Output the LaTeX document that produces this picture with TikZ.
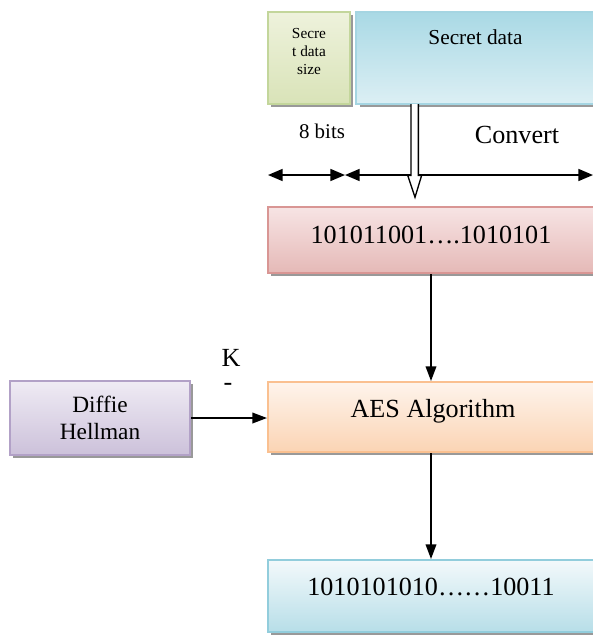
\documentclass[tikz,border=0pt]{standalone}
\usepackage{fontspec}
\setmainfont{Liberation Serif}
\usetikzlibrary{arrows.meta,shadows}
\definecolor{gB}{HTML}{C3D69B}\definecolor{gT}{HTML}{EEF2DC}\definecolor{gL}{HTML}{D9E3B8}
\definecolor{bB}{HTML}{A5D5E2}\definecolor{bT}{HTML}{A9D9E5}\definecolor{bL}{HTML}{DCEFF4}
\definecolor{rB}{HTML}{D99694}\definecolor{rT}{HTML}{F7E4E4}\definecolor{rL}{HTML}{E5B9B7}
\definecolor{oB}{HTML}{FAC090}\definecolor{oT}{HTML}{FEF4EC}\definecolor{oL}{HTML}{FBD4B4}
\definecolor{pB}{HTML}{B2A1C7}\definecolor{pT}{HTML}{EFEBF4}\definecolor{pL}{HTML}{CCC1DA}
\definecolor{cB}{HTML}{92CDDC}\definecolor{cT}{HTML}{F3F9FB}\definecolor{cL}{HTML}{B7DEE8}
\begin{document}
\begin{tikzpicture}[x=0.75pt,y=-0.75pt,
  box/.style={draw, line width=1.5pt, inner sep=0pt,
    drop shadow={shadow xshift=2.5pt, shadow yshift=-2.5pt, fill=black!40, opacity=1}},
  big/.style={font=\fontsize{19.6}{22}\selectfont},
  arr/.style={-{Triangle[length=11pt,width=8pt]}, line width=1.2pt},
  dbl/.style={{Triangle[length=11pt,width=9pt]}-{Triangle[length=11pt,width=9pt]}, line width=1.2pt}]
\useasboundingbox (0,0) rectangle (593,637);
\clip (0,0) rectangle (593,637);
% boxes
\node[box, draw=gB, top color=gT, bottom color=gL, minimum width=61.5pt, minimum height=69pt] (size) at (309,58) {};
\node[box, draw=bB, top color=bT, bottom color=bL, minimum width=179pt, minimum height=69pt] (data) at (475.5,58) {};
\node[box, draw=rB, top color=rT, bottom color=rL, minimum width=244.5pt, minimum height=49.5pt] (bits) at (431,240) {};
\node[box, draw=oB, top color=oT, bottom color=oL, minimum width=244.5pt, minimum height=52.5pt] (aes) at (431,417) {};
\node[box, draw=pB, top color=pT, bottom color=pL, minimum width=135pt, minimum height=55.5pt] (dh) at (100,418) {};
\node[box, draw=cB, top color=cT, bottom color=cL, minimum width=244.5pt, minimum height=54pt] (out) at (431,596) {};
% texts
\node[align=center, font=\fontsize{11.5}{13.5}\selectfont] (sizet) at (309,51) {Secre\\t data\\size};
\node[font=\fontsize{16}{18}\selectfont] (datat) at (475.5,37) {Secret data};
\node[font=\fontsize{15.7}{18}\selectfont] (eight) at (322,131) {8 bits};
\node[big] (conv) at (517,135) {Convert};
\node[big] (bitst) at (431,235) {101011001\ldots.1010101};
\node[big] (aest) at (433,411) {AES Algorithm};
\node[align=center, font=\fontsize{17.5}{20}\selectfont] (dht) at (100,418) {Diffie\\Hellman};
\node[big, inner sep=0pt] (key) at (231,358) {K};
\node[big, inner sep=0pt] (dash) at (228,387) {-};
\node[big] (outt) at (431,587) {1010101010\ldots\ldots10011};
% double arrows
\coordinate (a1) at (268,175);
\coordinate (a2) at (345,175);
\coordinate (a3) at (593,175);
\draw[dbl] (a1) -- (a2);
\draw[dbl] (a2) -- (a3);
% hollow arrow
\coordinate (h) at (415,104);
\draw[line width=1pt, fill=white] ([xshift=-3pt]h) -- ++(0,-53.5pt) -- ++(-2.5pt,0) -- ([yshift=-70pt]h) -- ++(5pt,16.5pt) -- ++(-2.5pt,0) -- ([xshift=2.5pt]h);
% connectors
\draw[arr] (bits.south) -- (aes.north);
\draw[arr] (aes.south) -- (out.north);
\draw[arr] (dh.east) -- (dh.east -| aes.west);
\end{tikzpicture}
\end{document}
